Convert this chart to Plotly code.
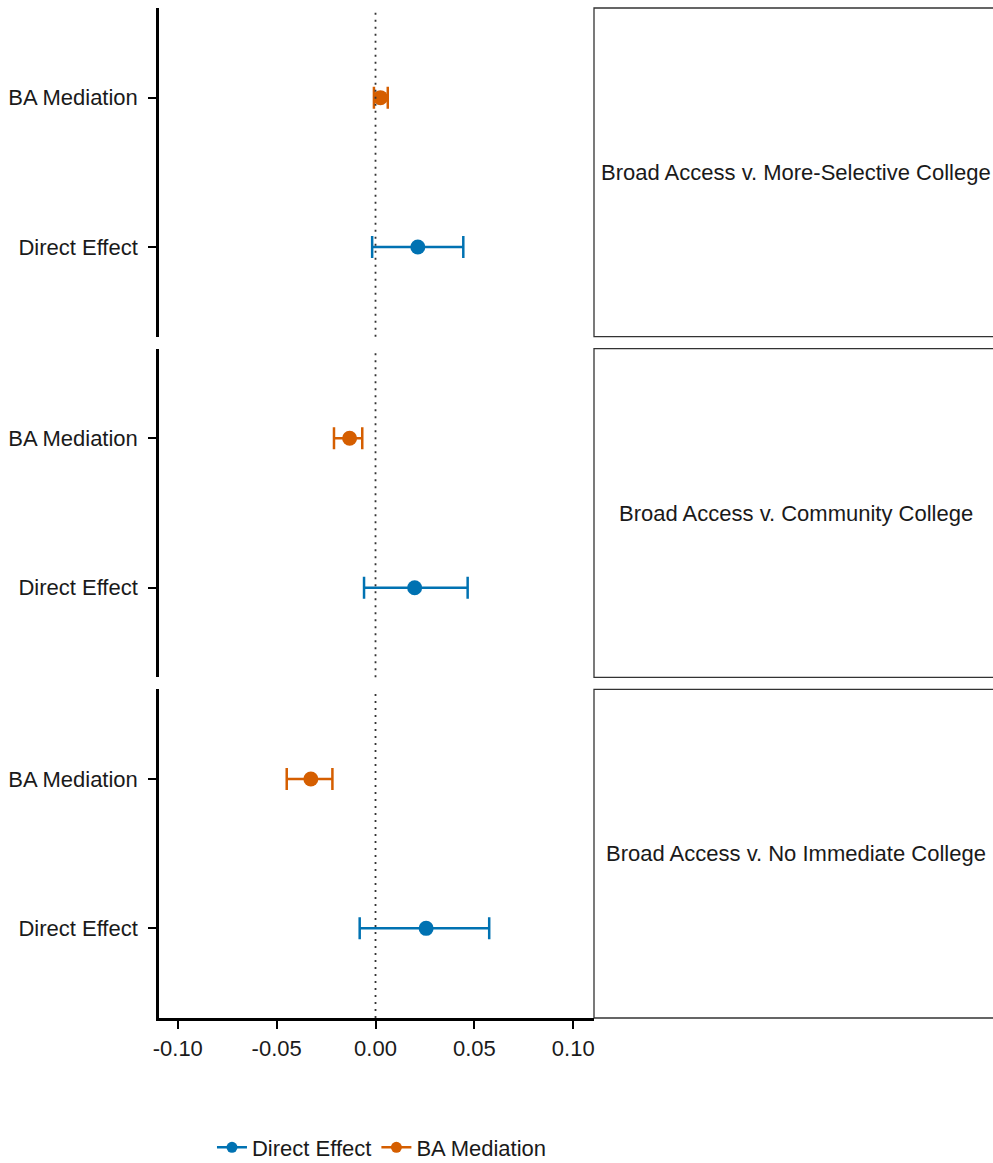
import plotly.graph_objects as go
from plotly.subplots import make_subplots

panels = ["Broad Access v. More-Selective College",
          "Broad Access v. Community College",
          "Broad Access v. No Immediate College"]
effects = ["Direct Effect", "BA Mediation"]

direct_est = [0.0214, 0.0198, 0.0256]
direct_lo = [-0.0017, -0.0058, -0.0080]
direct_hi = [0.0444, 0.0466, 0.0575]

ba_est = [0.0025, -0.0131, -0.0327]
ba_lo = [-0.0008, -0.0210, -0.0449]
ba_hi = [0.0062, -0.0067, -0.0218]

x_ticks = [-0.10, -0.05, 0.00, 0.05, 0.10]
x_ticklabels = ["-0.10", "-0.05", "0.00", "0.05", "0.10"]

colors = {"Direct Effect": "#0072B2", "BA Mediation": "#D55E00"}
FONT = "Liberation Sans, Arial, Helvetica, sans-serif"
FS = 22
TXT = "#1a1a1a"

# vertical stretch to compensate for the capture scaling
VS = 1177 / 1163
W, H = 993, 1177
plot_bottom = round(1016 * VS)
L, R, T, B = 157, 993 - 594, 8, H - plot_bottom
gap = 12 * VS
plot_h = H - T - B

fig = make_subplots(rows=3, cols=1, shared_xaxes=True,
                    vertical_spacing=gap / plot_h)

series = {
    "Direct Effect": (direct_est, direct_lo, direct_hi, 1),
    "BA Mediation": (ba_est, ba_lo, ba_hi, 2),
}

for i in range(3):
    for name in effects:
        est, lo, hi, ypos = series[name]
        fig.add_trace(go.Scatter(
            x=[est[i]], y=[ypos], mode="markers",
            marker=dict(color=colors[name], size=15),
            error_x=dict(type="data", symmetric=False,
                         array=[hi[i] - est[i]], arrayminus=[est[i] - lo[i]],
                         color=colors[name], thickness=2.5, width=11),
            showlegend=False, hoverinfo="skip"), row=i + 1, col=1)
    fig.add_vline(x=0, line=dict(color="#333333", width=1.8, dash="2px,5px"),
                  row=i + 1, col=1)

# legend entries
for name in effects:
    fig.add_trace(go.Scatter(x=[None], y=[None], mode="lines+markers",
                             name=name,
                             marker=dict(color=colors[name], size=11),
                             line=dict(color=colors[name], width=2.5)),
                  row=3, col=1)

for i in range(3):
    fig.update_yaxes(range=[0.4, 2.6], tickvals=[1, 2], ticktext=effects,
                     showline=True, linecolor="black", linewidth=2.5,
                     ticks="outside", ticklen=8, tickcolor="black", tickwidth=2,
                     ticklabelstandoff=6,
                     showgrid=False, zeroline=False, fixedrange=True,
                     tickfont=dict(family=FONT, size=FS, color=TXT),
                     row=i + 1, col=1)
    fig.update_xaxes(range=[-0.1095, 0.1105], showgrid=False, zeroline=False,
                     row=i + 1, col=1)

fig.update_xaxes(tickvals=x_ticks, ticktext=x_ticklabels,
                 showline=True, linecolor="black", linewidth=2.5,
                 ticks="outside", ticklen=8, tickcolor="black", tickwidth=2,
                 ticklabelstandoff=1,
                 showticklabels=True,
                 tickfont=dict(family=FONT, size=FS, color=TXT),
                 row=3, col=1)

# facet strips on the right
panel_h = (plot_h - 2 * gap) / 3
x_left = 1.0
x_right = (1000 - L) / (W - L - R)
for i, label in enumerate(panels):
    top_px = i * (panel_h + gap)
    y1 = 1 - top_px / plot_h
    y0 = 1 - (top_px + panel_h) / plot_h
    fig.add_shape(type="rect", xref="paper", yref="paper",
                  x0=x_left, x1=x_right, y0=y0, y1=y1,
                  line=dict(color="#333333", width=1.3), fillcolor="white",
                  layer="below")
    fig.add_annotation(xref="paper", yref="paper",
                       x=(x_left + x_right) / 2, y=(y0 + y1) / 2,
                       text=label, showarrow=False,
                       font=dict(family=FONT, size=FS, color=TXT),
                       xanchor="center", yanchor="middle")

fig.update_layout(
    width=W, height=H,
    margin=dict(l=L, r=R, t=T, b=B),
    plot_bgcolor="white", paper_bgcolor="white",
    font=dict(family=FONT, size=FS, color=TXT),
    showlegend=True,
    legend=dict(orientation="h", x=(381 - L) / (W - L - R), xanchor="center",
                y=-(1145 * VS - plot_bottom) / plot_h, yanchor="middle",
                font=dict(family=FONT, size=FS, color=TXT),
                itemwidth=30, bgcolor="rgba(0,0,0,0)"),
)

post = (
    "document.documentElement.style.margin='0';"
    "document.documentElement.style.overflow='hidden';"
    "document.body.style.margin='0';"
    "document.body.style.overflow='hidden';"
)

fig.write_html("out.html", config={"displayModeBar": False},
               post_script=post)
